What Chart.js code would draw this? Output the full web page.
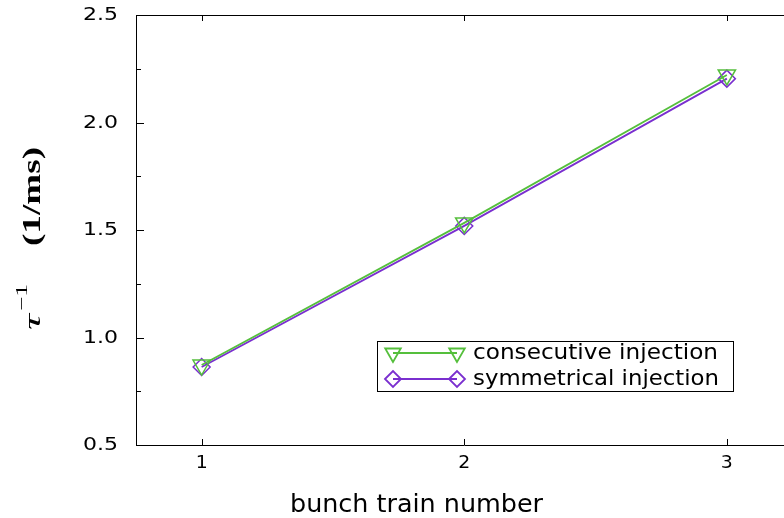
<!DOCTYPE html>
<html>
<head>
<meta charset="utf-8">
<script src="https://cdn.jsdelivr.net/npm/chart.js@4/dist/chart.umd.min.js"></script>
<style>
  html, body { margin: 0; padding: 0; background: #fff; overflow: hidden; }
  canvas { display: block; }
</style>
</head>
<body>
<canvas id="tauChart" width="804" height="518"></canvas>
<script>
// data
const trainNumbers = [1, 2, 3];
const consecutive = [0.872, 1.533, 2.221];
const symmetrical = [0.863, 1.519, 2.204];
const xTicks = [1, 2, 3];
const yTicks = [0.5, 1.0, 1.5, 2.0, 2.5];
const seriesNames = ['consecutive injection', 'symmetrical injection'];

const green = '#55bf3c';
const purple = '#7a2fcf';

// stretch text to a given width (the reference fonts are wide)
function fitText(ctx, txt, x, y, w) {
  const m = ctx.measureText(txt).width;
  ctx.save();
  ctx.translate(x, y);
  ctx.scale(w / m, 1);
  ctx.fillText(txt, 0, 0);
  ctx.restore();
}

const decor = {
  id: 'decor',
  afterDraw(chart) {
    const ctx = chart.ctx;
    const a = chart.chartArea;
    const xs = chart.scales.x, ys = chart.scales.y;
    ctx.save();
    ctx.strokeStyle = '#000';
    ctx.lineWidth = 1;
    ctx.beginPath();
    // top frame line
    ctx.moveTo(a.left, a.top + 0.5);
    ctx.lineTo(a.right, a.top + 0.5);
    // y ticks, inward, major + minor
    for (let v = 0.5; v <= 2.5001; v += 0.25) {
      const py = Math.round(ys.getPixelForValue(v)) + 0.5;
      const len = (Math.abs(v * 2 - Math.round(v * 2)) < 0.01) ? 8 : 5;
      ctx.moveTo(a.left, py);
      ctx.lineTo(a.left + len, py);
    }
    // x ticks bottom and top
    xTicks.forEach(v => {
      const px = Math.round(xs.getPixelForValue(v)) + 0.5;
      ctx.moveTo(px, a.bottom);
      ctx.lineTo(px, a.bottom - 6);
      ctx.moveTo(px, a.top);
      ctx.lineTo(px, a.top + 6);
    });
    ctx.stroke();

    // tick labels
    ctx.fillStyle = '#000';
    ctx.font = '17px "DejaVu Sans"';
    ctx.textBaseline = 'middle';
    ctx.textAlign = 'left';
    yTicks.forEach(v => {
      const t = v.toFixed(1);
      fitText(ctx, t, 83, ys.getPixelForValue(v) + 1, 35);
    });
    xTicks.forEach(v => {
      const px = xs.getPixelForValue(v);
      fitText(ctx, String(v), px - 6, 464, 12);
    });

    // legend
    ctx.strokeStyle = '#000';
    ctx.lineWidth = 1;
    ctx.strokeRect(377.5, 341.5, 356, 50);
    const rows = [
      { y: 353, color: green, style: 'triangle', rot: 180, r: 9 },
      { y: 379, color: purple, style: 'rectRot', rot: 0, r: 8 }
    ];
    rows.forEach((row, i) => {
      ctx.strokeStyle = row.color;
      ctx.lineWidth = 1.8;
      ctx.beginPath();
      ctx.moveTo(393, row.y);
      ctx.lineTo(457, row.y);
      ctx.stroke();
      ctx.fillStyle = 'rgba(0,0,0,0)';
      [393, 457].forEach(px => {
        Chart.helpers.drawPoint(ctx, { pointStyle: row.style, rotation: row.rot, radius: row.r, borderWidth: 1.5 }, px, row.y);
      });
      ctx.fillStyle = '#000';
      ctx.font = '21px "DejaVu Sans"';
      ctx.textBaseline = 'middle';
      ctx.textAlign = 'left';
      const w = i === 0 ? 245 : 246;
      fitText(ctx, seriesNames[i], 473, row.y + 1, w);
    });

    // x axis title
    ctx.fillStyle = '#000';
    ctx.font = '24px "DejaVu Sans"';
    ctx.textBaseline = 'alphabetic';
    ctx.textAlign = 'left';
    fitText(ctx, 'bunch train number', 290, 512, 253);

    // y axis title, rotated
    ctx.save();
    ctx.rotate(-Math.PI / 2);
    // in rotated frame: x' = -imageY, y' = imageX
    ctx.font = 'italic 24px "Liberation Serif"';
    fitText(ctx, '\u03C4', -330, 40, 16);
    ctx.font = '17px "Liberation Serif"';
    fitText(ctx, '\u22121', -311, 27, 27);
    ctx.font = 'bold 26px "Liberation Serif"';
    fitText(ctx, '(1/ms)', -246, 40, 99);
    ctx.restore();

    ctx.restore();
  }
};

new Chart(document.getElementById('tauChart'), {
  type: 'line',
  data: {
    datasets: [
      {
        label: seriesNames[0],
        data: trainNumbers.map((x, i) => ({ x: x, y: consecutive[i] })),
        borderColor: green,
        backgroundColor: 'transparent',
        borderWidth: 1.8,
        pointStyle: 'triangle',
        pointRotation: 180,
        pointRadius: 10,
        pointBorderWidth: 1.5,
        pointBorderColor: green,
        pointBackgroundColor: 'transparent'
      },
      {
        label: seriesNames[1],
        data: trainNumbers.map((x, i) => ({ x: x, y: symmetrical[i] })),
        borderColor: purple,
        backgroundColor: 'transparent',
        borderWidth: 1.8,
        pointStyle: 'rectRot',
        pointRadius: 8.5,
        pointBorderWidth: 1.5,
        pointBorderColor: purple,
        pointBackgroundColor: 'transparent'
      }
    ]
  },
  options: {
    responsive: false,
    animation: false,
    layout: { padding: { top: 15, right: 3, left: 0, bottom: 0 } },
    plugins: { legend: { display: false }, tooltip: { enabled: false } },
    scales: {
      x: {
        type: 'linear',
        min: 0.75,
        max: 3.25,
        afterBuildTicks: s => { s.ticks = xTicks.map(v => ({ value: v })); },
        afterFit: s => { s.height = 73; },
        grid: { display: true, drawOnChartArea: false, drawTicks: false },
        border: { display: true, color: '#000', width: 1 },
        ticks: { display: false }
      },
      y: {
        min: 0.5,
        max: 2.5,
        afterBuildTicks: s => { s.ticks = yTicks.map(v => ({ value: v })); },
        afterFit: s => { s.width = 136; },
        grid: { display: true, drawOnChartArea: false, drawTicks: false },
        border: { display: true, color: '#000', width: 1 },
        ticks: { display: false }
      }
    }
  },
  plugins: [decor]
});
</script>
</body>
</html>
